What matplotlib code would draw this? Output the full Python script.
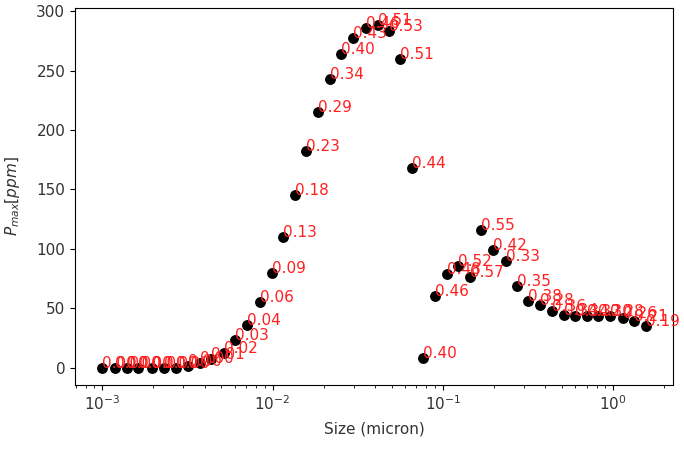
import matplotlib
matplotlib.use("Agg")
import matplotlib.pyplot as plt

size_micron = [0.001000, 0.001189, 0.001406, 0.001632, 0.001953, 0.002306, 0.002702,
               0.00319, 0.003737, 0.004336, 0.00519, 0.0060, 0.00712, 0.008446, 0.00989,
               0.01153, 0.01356, 0.01582, 0.0186, 0.02176, 0.02525, 0.02958, 0.0354,
               0.04165, 0.04832, 0.05607, 0.0657, 0.0762, 0.0896, 0.1054, 0.1235, 0.1444,
               0.167, 0.1972, 0.2363, 0.2742, 0.3174, 0.3742, 0.4377, 0.5108, 0.5974,
               0.6998, 0.8153, 0.955, 1.134, 1.327, 1.554]

p_max = [0, 0, 0, 0, 0, 0, 0.3,
         1.7, 4.5, 7.8, 12.9, 23.3, 36.0, 55.0, 80.0,
         110.4, 145.5, 182.0, 214.9, 242.7, 264.3, 277.8, 286.2,
         288.2, 283.1, 259.5, 168.2, 8.4, 60.3, 79.0, 86.0, 76.7,
         116.0, 99.2, 89.6, 68.5, 56.5, 53.1, 47.7, 44.7, 43.8,
         43.8, 43.8, 43.8, 41.9, 39.0, 35.4]

labels = ["0.00", "0.00", "0.00", "0.00", "0.00", "0.00", "0.00",
          "0.00", "0.00", "0.01", "0.02", "0.03", "0.04", "0.06", "0.09",
          "0.13", "0.18", "0.23", "0.29", "0.34", "0.40", "0.43", "0.46",
          "0.51", "0.53", "0.51", "0.44", "0.40", "0.46", "0.48", "0.52", "0.57",
          "0.55", "0.42", "0.33", "0.35", "0.38", "0.28", "0.36", "0.34", "0.34",
          "0.32", "0.30", "0.28", "0.26", "0.21", "0.19"]

fig = plt.figure(figsize=(6.84, 4.5), dpi=100)
ax = fig.add_axes([75/684, 1 - 385/450, (673 - 75)/684, (385 - 8)/450])

ax.plot(size_micron, p_max, 'o', color='black', markersize=6.8)
for x, y, t in zip(size_micron, p_max, labels):
    ax.text(x, y, t, color='#ff2020', fontsize=11)

ax.set_xscale('log')
ax.set_xlabel('Size (micron)', fontsize=11, color='#333333', labelpad=6)
ax.set_ylabel('$P_{max}[ppm]$', fontsize=11, color='#333333', labelpad=10)
ax.tick_params(labelsize=11, labelcolor='#333333')

fig.savefig('out.png', dpi=100)
